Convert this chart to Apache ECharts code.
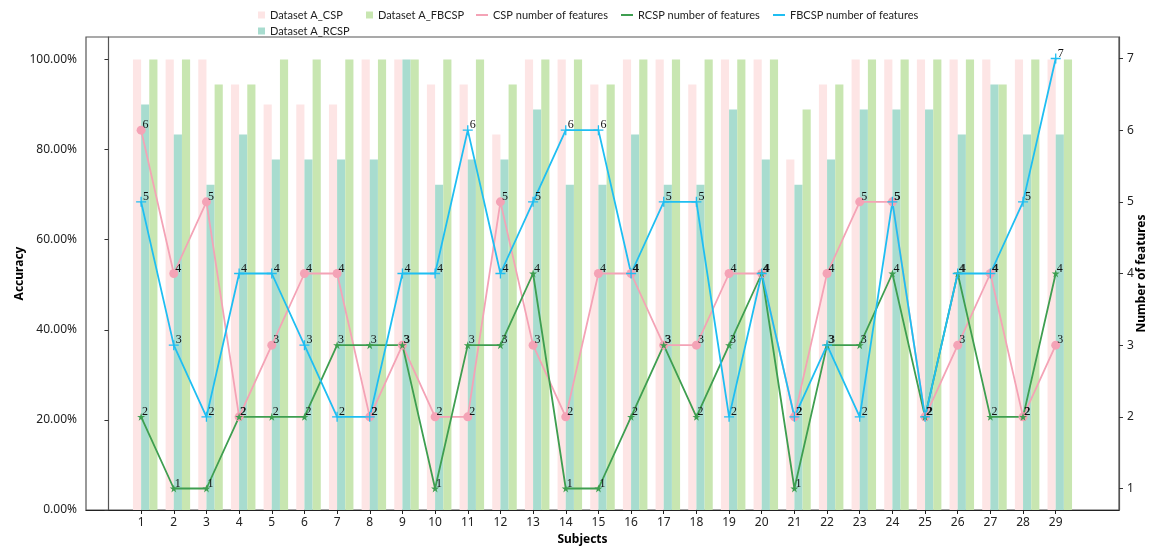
<!DOCTYPE html>
<html>
<head>
<meta charset="utf-8">
<script src="https://cdn.jsdelivr.net/npm/echarts@6/dist/echarts.min.js"></script>
<style>
  html, body { margin: 0; padding: 0; background: #ffffff; }
  #chart { width: 1151px; height: 550px; }
</style>
</head>
<body>
<div id="chart"></div>
<script>
// Subjects on the horizontal axis
const subjects = [1, 2, 3, 4, 5, 6, 7, 8, 9, 10, 11, 12, 13, 14, 15, 16, 17, 18, 19, 20, 21, 22, 23, 24, 25, 26, 27, 28, 29];

// Classification accuracy per subject (fraction of trials)
const accCSP = [1, 1, 1, 0.9444, 0.90, 0.90, 0.90, 1, 1, 0.9444, 0.9444, 0.8333, 1, 1, 0.9444,
  1, 1, 0.9444, 1, 1, 0.7778, 0.9444, 1, 1, 1, 1, 1, 1, 1];
const accRCSP = [0.90, 0.8333, 0.7222, 0.8333, 0.7778, 0.7778, 0.7778, 0.7778, 1, 0.7222, 0.7778, 0.7778, 0.8889, 0.7222, 0.7222,
  0.8333, 0.7222, 0.7222, 0.8889, 0.7778, 0.7222, 0.7778, 0.8889, 0.8889, 0.8889, 0.8333, 0.9444, 0.8333, 0.8333];
const accFBCSP = [1, 1, 0.9444, 0.9444, 1, 1, 1, 1, 1, 1, 1, 0.9444, 1, 1, 0.9444,
  1, 1, 1, 1, 1, 0.8889, 0.9444, 1, 1, 1, 1, 0.9444, 1, 1];

// Number of selected features per subject
const featCSP = [6, 4, 5, 2, 3, 4, 4, 2, 3, 2, 2, 5, 3, 2, 4, 4, 3, 3, 4, 4, 2, 4, 5, 5, 2, 3, 4, 2, 3];
const featRCSP = [2, 1, 1, 2, 2, 2, 3, 3, 3, 1, 3, 3, 4, 1, 1, 2, 3, 2, 3, 4, 1, 3, 3, 4, 2, 4, 2, 2, 4];
const featFBCSP = [5, 3, 2, 4, 4, 3, 2, 2, 4, 4, 6, 4, 5, 6, 6, 4, 5, 5, 2, 4, 2, 3, 2, 5, 2, 4, 4, 5, 7];

// Tick values
const accuracyTicks = [0, 0.2, 0.4, 0.6, 0.8, 1.0];
const featureTicks = [1, 2, 3, 4, 5, 6, 7];

// Series names
const names = {
  barCSP: 'Dataset A_CSP',
  barRCSP: 'Dataset A_RCSP',
  barFBCSP: 'Dataset A_FBCSP',
  lineCSP: 'CSP number of features',
  lineRCSP: 'RCSP number of features',
  lineFBCSP: 'FBCSP number of features'
};

const colors = {
  barCSP: '#fde5e5',
  barRCSP: '#a8dccf',
  barFBCSP: '#c8e6b1',
  lineCSP: '#f4a3b6',
  lineRCSP: '#3e9e50',
  lineFBCSP: '#1fbef2'
};

const pair = (vals) => subjects.map((s, i) => [s, vals[i]]);

// bar width as a fraction of one subject step; four slots per group, the first one empty
const barW = '25%';

const uiFont = '"Noto Sans", "Open Sans", sans-serif';
const legendFont = 'Lato, "Noto Sans", sans-serif';
const starPath = 'path://M0,-1L0.2234,-0.3074L0.9511,-0.309L0.3614,0.1174L0.5878,0.809L0,0.38L-0.5878,0.809L-0.3614,0.1174L-0.9511,-0.309L-0.2234,-0.3074Z';
const plusPath = 'path://M-1,-0.13H1V0.13H-1Z M-0.13,-1H0.13V1H-0.13Z';

function barSeries(name, vals, color) {
  return {
    name: name, type: 'bar', xAxisIndex: 0, yAxisIndex: 0,
    data: pair(vals), barWidth: barW, barGap: '0%',
    itemStyle: { color: color }, silent: true
  };
}

function lineSeries(name, vals, color, symbol, size) {
  return {
    name: name, type: 'line', xAxisIndex: 0, yAxisIndex: 1,
    data: pair(vals),
    symbol: symbol, symbolSize: size, showAllSymbol: true,
    lineStyle: { color: color, width: 1.8 },
    itemStyle: { color: color },
    label: {
      show: true, position: 'right', distance: 0, offset: [-3, -5],
      color: '#111', fontFamily: '"Liberation Serif", "DejaVu Serif", serif', fontSize: 12,
      formatter: (p) => String(p.value[1])
    },
    z: 3
  };
}

function legendCol(left, items, w, h) {
  return {
    left: left, top: 7, padding: 0, orient: 'vertical', itemGap: 0,
    itemWidth: w, itemHeight: h, icon: 'rect',
    data: items,
    textStyle: { fontFamily: legendFont, fontSize: 11, color: '#222', lineHeight: 16 },
    selectedMode: false
  };
}

const axisNameStyle = { fontFamily: uiFont, fontSize: 12, fontWeight: 'bold', color: '#000' };

const chart = echarts.init(document.getElementById('chart'), null, { renderer: 'canvas' });

chart.setOption({
  animation: false,
  backgroundColor: '#ffffff',
  legend: [
    legendCol(258, [names.barCSP, names.barRCSP], 7, 7),
    legendCol(366, [names.barFBCSP], 7, 7),
    legendCol(476, [names.lineCSP], 12, 2),
    legendCol(621, [names.lineRCSP], 12, 2),
    legendCol(773, [names.lineFBCSP], 12, 2)
  ],
  grid: {
    left: 86, right: 32, top: 37, bottom: 40,
    outerBoundsMode: 'none', containLabel: false,
    show: true, borderColor: '#555', borderWidth: 1.2, backgroundColor: 'transparent'
  },
  xAxis: [{
    type: 'value', min: -0.6875, max: 30.9375,
    name: 'Subjects', nameLocation: 'middle', nameGap: 24, nameMoveOverlap: false,
    nameTextStyle: Object.assign({ padding: [0, 40, 0, 0] }, axisNameStyle),
    axisLine: { show: true, lineStyle: { color: '#222', width: 1.2 } },
    axisTick: { show: true, length: 4, customValues: subjects, lineStyle: { color: '#222' } },
    axisLabel: { show: true, customValues: subjects, margin: 7, fontFamily: uiFont, fontSize: 12, color: '#222' },
    splitLine: { show: false }
  }],
  yAxis: [{
    type: 'value', min: 0, max: 1.05, position: 'left',
    name: 'Accuracy', nameLocation: 'middle', nameGap: 60, nameMoveOverlap: false,
    nameTextStyle: axisNameStyle,
    axisLine: { show: true, lineStyle: { color: '#555', width: 1.2 } },
    axisTick: { show: true, length: 4, customValues: accuracyTicks, lineStyle: { color: '#333' } },
    axisLabel: {
      show: true, customValues: accuracyTicks, margin: 9,
      fontFamily: uiFont, fontSize: 12, color: '#222',
      formatter: (v) => (v * 100).toFixed(2) + '%'
    },
    splitLine: { show: false }
  }, {
    type: 'value', min: 0.7, max: 7.3, position: 'right',
    name: 'Number of features', nameLocation: 'middle', nameGap: 17, nameMoveOverlap: false,
    nameTextStyle: axisNameStyle,
    axisLine: { show: true, lineStyle: { color: '#555', width: 1.2 } },
    axisTick: { show: true, length: 4, customValues: featureTicks, lineStyle: { color: '#333' } },
    axisLabel: { show: true, customValues: featureTicks, margin: 8, fontFamily: uiFont, fontSize: 12, color: '#222' },
    splitLine: { show: false }
  }],
  series: [
    // empty leading slot so each bar group starts at the subject position
    { name: 'slot', type: 'bar', xAxisIndex: 0, yAxisIndex: 0, data: [], barWidth: barW, barGap: '0%', silent: true },
    barSeries(names.barCSP, accCSP, colors.barCSP),
    barSeries(names.barRCSP, accRCSP, colors.barRCSP),
    barSeries(names.barFBCSP, accFBCSP, colors.barFBCSP),
    lineSeries(names.lineCSP, featCSP, colors.lineCSP, 'circle', 9),
    lineSeries(names.lineRCSP, featRCSP, colors.lineRCSP, starPath, 8),
    lineSeries(names.lineFBCSP, featFBCSP, colors.lineFBCSP, plusPath, 10)
  ]
});
</script>
</body>
</html>
